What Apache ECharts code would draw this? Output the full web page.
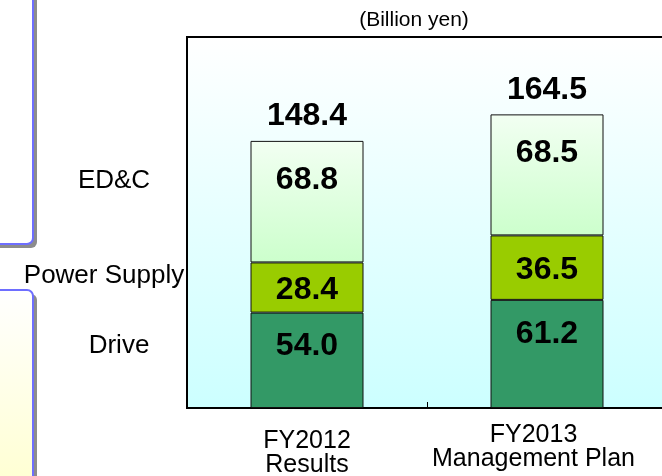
<!DOCTYPE html>
<html>
<head>
<meta charset="utf-8">
<script src="https://cdn.jsdelivr.net/npm/echarts@6/dist/echarts.min.js"></script>
<style>
html,body{margin:0;padding:0;background:#fff;}
#chart{width:662px;height:476px;}
</style>
</head>
<body>
<div id="chart"></div>
<script>
const categories = ['FY2012\nResults', 'FY2013\nManagement Plan'];
const seriesNames = ['Drive', 'Power Supply', 'ED&C'];
const driveValues = [54.0, 61.2];
const powerSupplyValues = [28.4, 36.5];
const edcValues = [68.8, 68.5];
const totalValues = [148.4, 164.5];
const unitLabel = '(Billion yen)';

const FONT = 'Liberation Sans, Arial, sans-serif';
const chart = echarts.init(document.getElementById('chart'));

const stackTops = categories.map((c, i) => driveValues[i] + powerSupplyValues[i] + edcValues[i]);

const valueLabel = (pos, dist, off) => ({
  show: true,
  position: pos,
  distance: dist,
  offset: off || [0, 0],
  color: '#000',
  fontFamily: FONT,
  fontWeight: 'bold',
  fontSize: 32,
  formatter: p => Number(p.value).toFixed(1)
});

const option = {
  animation: false,
  backgroundColor: '#ffffff',
  grid: {
    left: 187,
    top: 37,
    width: 480,
    bottom: 68,
    outerBoundsMode: 'none',
    containLabel: false,
    show: true,
    borderColor: '#000',
    borderWidth: 2,
    backgroundColor: new echarts.graphic.LinearGradient(0, 0, 0, 1, [
      { offset: 0, color: '#ffffff' },
      { offset: 1, color: '#ccffff' }
    ])
  },
  xAxis: {
    type: 'category',
    data: [
      { value: categories[0], textStyle: { padding: [6, 0, 0, 0] } },
      { value: categories[1], textStyle: { padding: [0, 27, 0, 0] } }
    ],
    axisLine: { show: true, lineStyle: { color: '#000', width: 2 } },
    axisTick: { show: true, inside: true, length: 6, lineStyle: { color: '#000', width: 1 } },
    axisLabel: {
      interval: 0,
      hideOverlap: false,
      margin: 15,
      color: '#000',
      fontFamily: FONT,
      fontSize: 25,
      lineHeight: 24,
      align: 'center'
    },
    splitLine: { show: false }
  },
  yAxis: {
    type: 'value',
    min: 0,
    max: 210,
    show: false
  },
  series: [
    {
      name: seriesNames[0],
      type: 'bar',
      stack: 'total',
      barWidth: 113,
      data: driveValues,
      itemStyle: { color: '#339966', borderColor: '#111', borderWidth: 1 },
      label: valueLabel('insideTop', 18)
    },
    {
      name: seriesNames[1],
      type: 'bar',
      stack: 'total',
      barWidth: 113,
      data: powerSupplyValues,
      itemStyle: { color: '#99cc00', borderColor: '#111', borderWidth: 1 },
      label: valueLabel('inside', 0, [0, 3])
    },
    {
      name: seriesNames[2],
      type: 'bar',
      stack: 'total',
      barWidth: 113,
      data: edcValues,
      itemStyle: {
        color: new echarts.graphic.LinearGradient(0, 0, 0, 1, [
          { offset: 0, color: '#f2fff2' },
          { offset: 1, color: '#ccffcc' }
        ]),
        borderColor: '#111',
        borderWidth: 1
      },
      label: valueLabel('insideTop', 23)
    },
    {
      name: 'Total',
      type: 'scatter',
      silent: true,
      symbolSize: 1,
      itemStyle: { color: 'rgba(0,0,0,0)', opacity: 1 },
      data: stackTops,
      label: {
        show: true,
        position: 'top',
        distance: 8,
        color: '#000',
        opacity: 1,
        fontFamily: FONT,
        fontWeight: 'bold',
        fontSize: 32,
        formatter: p => totalValues[p.dataIndex].toFixed(1)
      }
    }
  ],
  graphic: [
    { type: 'rect', shape: { x: -16, y: -16, width: 53, height: 264, r: 6 }, style: { fill: '#8c8c8c' }, z: 1 },
    { type: 'rect', shape: { x: -20, y: -20, width: 53, height: 264, r: 6 }, style: { fill: '#ffffff', stroke: '#6e6eff', lineWidth: 2 }, z: 2 },
    { type: 'rect', shape: { x: -16, y: 294, width: 53, height: 220, r: 6 }, style: { fill: '#8c8c8c' }, z: 1 },
    { type: 'rect', shape: { x: -20, y: 290, width: 53, height: 220, r: 6 },
      style: {
        fill: new echarts.graphic.LinearGradient(0, 0, 0, 1, [
          { offset: 0, color: '#ffffff' },
          { offset: 1, color: '#ffffcc' }
        ]),
        stroke: '#6e6eff', lineWidth: 2
      }, z: 2 },
    { type: 'text', x: 114, y: 181, style: { text: seriesNames[2], fill: '#000', font: '26px ' + FONT, textAlign: 'center', textVerticalAlign: 'middle' }, z: 5 },
    { type: 'text', x: 104, y: 276, style: { text: seriesNames[1], fill: '#000', font: '26px ' + FONT, textAlign: 'center', textVerticalAlign: 'middle' }, z: 5 },
    { type: 'text', x: 119, y: 346, style: { text: seriesNames[0], fill: '#000', font: '26px ' + FONT, textAlign: 'center', textVerticalAlign: 'middle' }, z: 5 },
    { type: 'text', x: 414, y: 20, style: { text: unitLabel, fill: '#000', font: '21px ' + FONT, textAlign: 'center', textVerticalAlign: 'middle' }, z: 5 }
  ]
};

chart.setOption(option);
</script>
</body>
</html>
